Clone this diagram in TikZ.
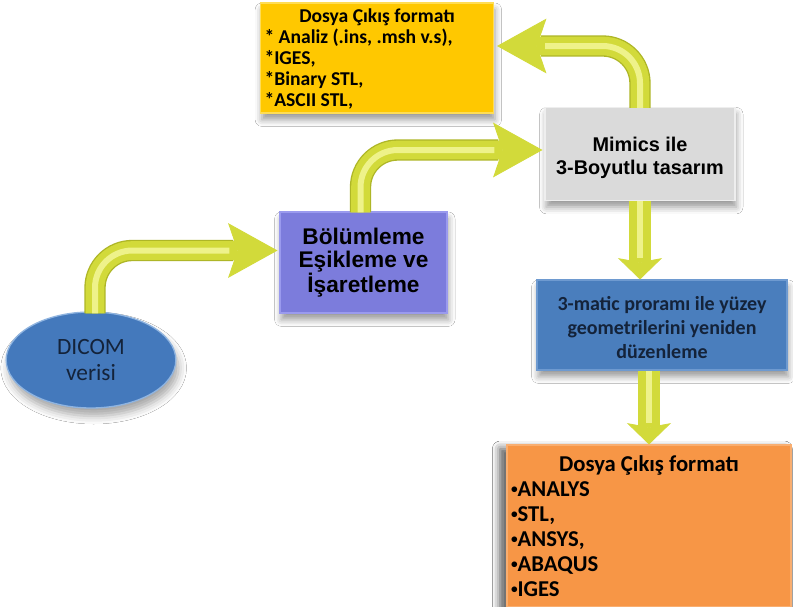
\documentclass[tikz,border=0pt]{standalone}
\usepackage{fontspec}
\setmainfont{Carlito}
\newfontfamily\arialf{Liberation Sans}
\usetikzlibrary{arrows.meta,shadows.blur,calc,shapes.geometric}
\definecolor{ygold}{HTML}{FFC800}
\definecolor{yedge}{HTML}{FFDD55}
\definecolor{mgray}{HTML}{DADADA}
\definecolor{medge}{HTML}{EEEEEE}
\definecolor{bpurple}{HTML}{7C7CDC}
\definecolor{pedge}{HTML}{9A9AEE}
\definecolor{tblue}{HTML}{4A7EBD}
\definecolor{tedge}{HTML}{6E9AD0}
\definecolor{orng}{HTML}{F79646}
\definecolor{oedge}{HTML}{F9AE70}
\definecolor{eblue}{HTML}{4479BC}
\definecolor{eedge}{HTML}{8FB4E0}
\definecolor{arrmain}{HTML}{D2DA3A}
\definecolor{arrdark}{HTML}{AEB627}
\definecolor{arrhi}{HTML}{EEF28A}
\definecolor{navytext}{HTML}{14233A}
\newcommand\smallbul{\raisebox{2.2pt}{\fontsize{10pt}{10pt}\selectfont •}}
\tikzset{
  boxbase/.style={rectangle, inner sep=0pt, line width=0.8pt,
    blur shadow={shadow xshift=1pt, shadow yshift=-5pt, shadow blur radius=5pt, shadow opacity=40}},
  ybox/.style={boxbase, fill=ygold, draw=yedge, minimum width=233*0.75pt, minimum height=110*0.75pt},
  mbox/.style={boxbase, fill=mgray, draw=medge, minimum width=190*0.75pt, minimum height=93*0.75pt},
  pbox/.style={boxbase, fill=bpurple, draw=pedge, minimum width=167*0.75pt, minimum height=101*0.75pt},
  tbox/.style={boxbase, fill=tblue, draw=tedge, minimum width=250*0.75pt, minimum height=90*0.75pt},
  obox/.style={boxbase, fill=orng, draw=oedge, minimum width=284*0.75pt, minimum height=162*0.75pt,
    blur shadow={shadow xshift=-5pt, shadow yshift=-3pt, shadow blur radius=6pt, shadow opacity=40}},
  dicomell/.style={ellipse, fill=eblue, draw=eedge, line width=1pt, inner sep=0pt,
    minimum width=168*0.75pt, minimum height=96*0.75pt,
    blur shadow={shadow xshift=2pt, shadow yshift=-6pt, shadow blur radius=6pt, shadow opacity=35}},
  curvearrow/.style={draw=arrmain, line width=14pt, rounded corners=28pt,
    -{Stealth[length=37pt, width=41pt, inset=7pt, line width=0.6pt]},
    preaction={draw=arrdark, line width=16pt, -, shorten >=33pt},
    postaction={draw=arrhi, line width=4.5pt, -, shorten >=36pt}},
  straightarrow/.style={draw=arrmain, line width=16pt,
    -{Stealth[length=16pt, width=33pt, inset=3pt, line width=0.6pt]},
    preaction={draw=arrdark, line width=17pt, -, shorten >=14pt},
    postaction={draw=arrhi, line width=5pt, -, shorten >=16pt}}
}
\begin{document}
\begin{tikzpicture}[x=0.75pt,y=-0.75pt]
\useasboundingbox (0,0) rectangle (793,607);
\fill[white] (0,0) rectangle (793,607);

% nodes
\node[ybox] (out1) at (377,58) {\parbox{168.75pt}{\vspace{1.5pt}\fontsize{14.7pt}{15.75pt}\selectfont\bfseries
  {\centering Dosya Çıkış formatı\par}\raggedright
  * Analiz (.ins, .msh v.s),\par
  *IGES,\par
  *Binary STL,\par
  *ASCII STL,}};

\node[mbox] (mimics) at (640,154) {\parbox{135pt}{\vspace{6pt}\centering\arialf\bfseries\fontsize{14.9pt}{17.3pt}\selectfont
  Mimics ile\\3-Boyutlu tasarım}};

\node[pbox] (bolum) at (363.5,262.5) {\parbox{120pt}{\centering\arialf\bfseries\fontsize{17pt}{17.4pt}\selectfont
  Bölümleme\\Eşikleme ve\\İşaretleme}};

\node[tbox] (tmatic) at (662,325) {\parbox{183pt}{\vspace{4pt}\centering\bfseries\color{navytext}\fontsize{15pt}{18pt}\selectfont
  3-matic proramı ile yüzey\\geometrilerini yeniden\\düzenleme}};

\node[obox] (out2) at (649,526) {\parbox{207pt}{\fontsize{17pt}{18.75pt}\selectfont\bfseries
  {\centering Dosya Çıkış formatı\par}\raggedright
  \smallbul ANALYS\par
  \smallbul STL,\par
  \smallbul ANSYS,\par
  \smallbul ABAQUS\par
  \smallbul IGES}};

\node[dicomell] (dicom) at (91,360) {\parbox{90pt}{\centering\color{navytext}\fontsize{17.5pt}{19.5pt}\selectfont
  DICOM\\verisi}};

% connectors
\draw[curvearrow] ($(dicom.north)+(4,2)$) |- ($(bolum.west)+(-2,-12)$);
\draw[curvearrow] ($(bolum.north)+(-3,1)$) |- ($(mimics.west)+(-2,-4)$);
\draw[curvearrow] ($(mimics.north)+(0,1)$) |- ($(out1.east)+(3,-12)$);
\draw[straightarrow] (mimics.south) -- (mimics.south |- tmatic.north);
\draw[straightarrow] (out2.north |- tmatic.south) -- (out2.north);
\end{tikzpicture}
\end{document}
